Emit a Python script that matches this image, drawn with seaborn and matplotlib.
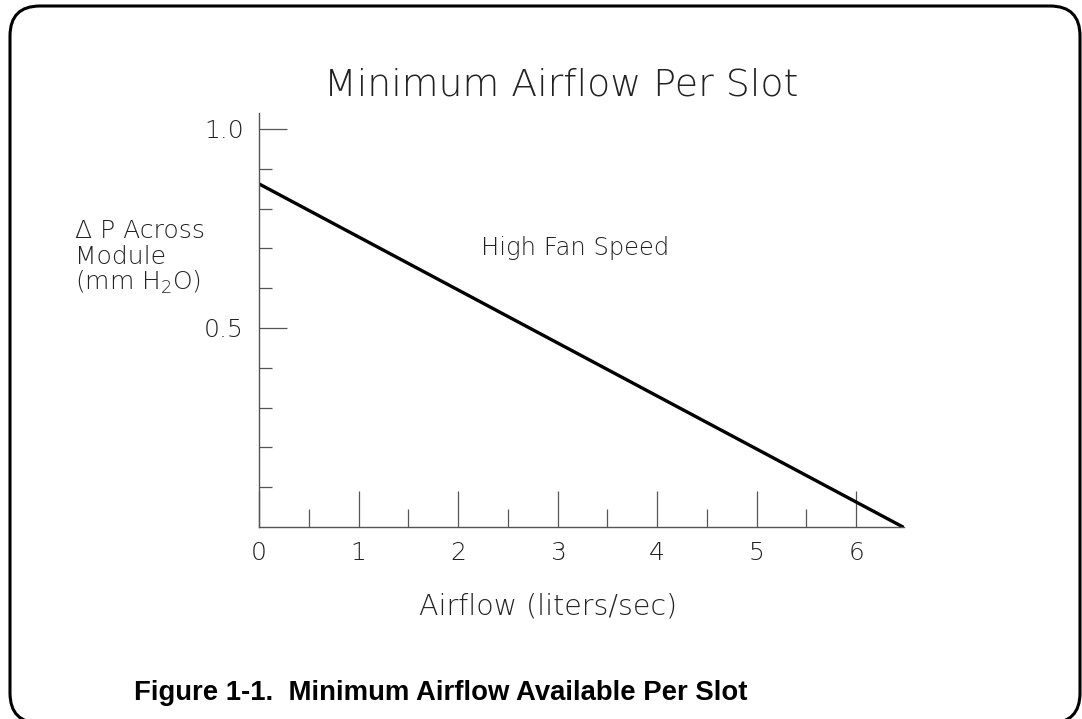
import matplotlib
matplotlib.use('Agg')
import matplotlib.pyplot as plt
import matplotlib.transforms as mtransforms
from matplotlib.patches import FancyBboxPatch
import seaborn as sns
import pandas as pd

# values
airflow = [0.0, 6.47]          # liters/sec
delta_p = [0.862, 0.0]         # mm H2O
x_major = [0, 1, 2, 3, 4, 5, 6]
x_minor = [0.5, 1.5, 2.5, 3.5, 4.5, 5.5]
y_major = [0.5, 1.0]
y_minor = [0.1, 0.2, 0.3, 0.4, 0.6, 0.7, 0.8, 0.9]
x_labels = ['0', '1', '2', '3', '4', '5', '6']
y_labels = ['0.5', '1.0']

sns.set_style('white')
plt.rcParams['font.family'] = ['DejaVu Sans']
plt.rcParams['font.weight'] = 'ultralight'
plt.rcParams['mathtext.fontset'] = 'custom'
plt.rcParams['mathtext.rm'] = 'DejaVu Sans:ultralight'

W, H = 1082, 719
fig = plt.figure(figsize=(W / 100, H / 100), dpi=100)
ax = fig.add_axes([259 / W, 1 - 527 / H, 645 / W, (527 - 113) / H])

df = pd.DataFrame({'airflow': airflow, 'dp': delta_p})
sns.lineplot(data=df, x='airflow', y='dp', color='black', linewidth=2.4, ax=ax)

ax.set_xlim(0, 6.48)
ax.set_ylim(0, 1.04)
ax.set_xticks(x_major)
ax.set_xticklabels(x_labels)
ax.set_xticks(x_minor, minor=True)
ax.set_yticks(y_major)
ax.set_yticklabels(y_labels)
ax.set_yticks(y_minor, minor=True)
ax.set_xlabel('')
ax.set_ylabel('')

txt = '#222222'
axcol = '#555555'
for s in ['top', 'right']:
    ax.spines[s].set_visible(False)
for s in ['left', 'bottom']:
    ax.spines[s].set_color(axcol)
    ax.spines[s].set_linewidth(1.0)

ax.tick_params(axis='both', which='both', direction='in', color=axcol, width=0.9,
               labelcolor=txt, labelsize=18, bottom=True, left=True)
ax.tick_params(axis='x', which='major', length=26, pad=10)
ax.tick_params(axis='x', which='minor', length=13)
ax.tick_params(axis='y', which='major', length=20, pad=11)
ax.tick_params(axis='y', which='minor', length=9.5)

# texts
fig.text(561 / W, 1 - 95 / H, 'Minimum Airflow Per Slot', ha='center', va='baseline',
         fontsize=27.3, color=txt)
fig.text(575 / W, 1 - 255 / H, 'High Fan Speed', ha='center', va='baseline',
         fontsize=17.5, color=txt)
fig.text(548 / W, 1 - 615 / H, 'Airflow (liters/sec)', ha='center', va='baseline',
         fontsize=20.5, color=txt)
fig.text(75 / W, 1 - 238 / H, '\u0394 P Across', ha='left', va='baseline', fontsize=18, color=txt)
fig.text(75 / W, 1 - 264 / H, 'Module', ha='left', va='baseline', fontsize=18, color=txt)
fig.text(75 / W, 1 - 290 / H, '(mm H$_2$O)', ha='left', va='baseline', fontsize=18, color=txt)

fig.text(134 / W, 1 - 700 / H, 'Figure 1-1.  Minimum Airflow Available Per Slot',
         ha='left', va='baseline', fontsize=19.8, fontweight='bold',
         family=['Liberation Sans', 'DejaVu Sans'], color='black')

# rounded frame round the figure
frame = FancyBboxPatch((10 + 30, -4 + 30), 1070 - 60, 717 - 60,
                       boxstyle='round,pad=30', transform=mtransforms.IdentityTransform(),
                       facecolor='none', edgecolor='black', linewidth=2.2)
fig.patches.append(frame)

fig.savefig('out.png', dpi=100)
